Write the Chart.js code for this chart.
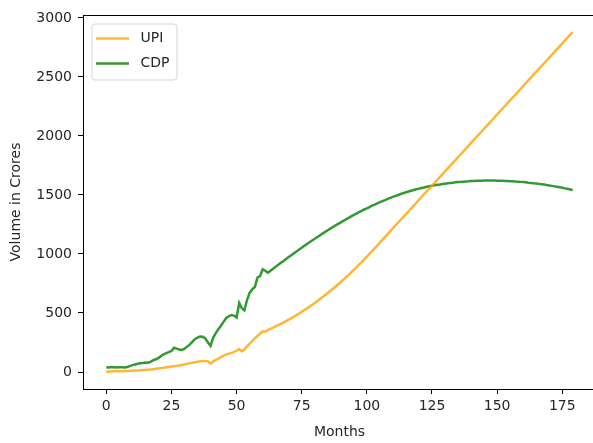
<!DOCTYPE html>
<html><head><meta charset="utf-8">
<script src="https://cdn.jsdelivr.net/npm/chart.js@4"></script>
<style>html,body{margin:0;padding:0;background:#fff;overflow:hidden}#wrap{position:relative;width:600px;height:443px}</style>
</head><body><div id="wrap"><canvas id="c" width="600" height="443"></canvas></div>
<script>
const months = Array.from({length:180},(_,i)=>i);
const upi = [3,4,5,6,6,7,7,8,9,10,11,12,13,14,16,17,19,21,24,27,30,33,37,40,43,46,49,52,56,60,64,69,74,79,83,87,92,94,93,90,72,88,102,114,126,138,148,156,162,168,180,195,175,190,215,240,262,285,305,325,345,342,
356,366,376,386,397,408,419,431,444,456,469,482,496,510,524,539,554,570,585,601,618,635,652,670,688,706,725,744,763,783,803,823,844,866,887,909,931,954,977,1000,1024,1048,1072,1097,
1121,1145,1169,1193,1218,1242,1266,1290,1314,1338,1362,1386,1410,1434,1459,1483,1507,1531,1555,1579,1603,1627,1651,1675,1700,1724,1748,1772,1796,1820,1844,1868,1892,1916,1941,1965,1989,2013,2037,2061,2085,2109,2133,2157,2182,2206,2230,2254,2278,2302,2326,2350,2374,2398,2423,2447,2471,2495,2519,2543,2567,2591,2615,2639,2664,2688,2712,2736,2760,2784,2808,2832,2856,2880];
const cdp = [40,38,42,40,38,41,40,39,42,50,58,64,70,74,76,80,78,86,100,108,118,135,150,160,168,178,205,198,190,186,198,215,232,255,278,292,300,298,285,250,222,290,330,362,392,425,458,472,483,478,462,585,540,522,610,670,700,720,800,812,870,858,
841,858,875,892,908,925,941,958,974,990,1006,1022,1038,1053,1069,1084,1099,1114,1129,1144,1158,1173,1187,1201,1215,1229,1242,1255,1268,1281,1294,1306,1319,1331,1342,1354,1365,1377,1387,1398,1409,1419,1429,1439,1448,1457,1467,1475,1484,
1492,1500,1508,1516,1523,1530,1536,1542,1548,1554,1559,1564,1569,1574,1578,1582,1586,1589,1593,1596,1599,1602,1604,1607,1609,1611,1613,1615,1616,1618,1619,1620,1621,1621,1622,1622,1622,
1622,1622,1621,1621,1620,1619,1618,1617,1616,1614,1613,1611,1609,1607,1604,1602,1599,1597,1594,1591,1588,1584,1581,1577,1573,1569,1565,1561,1556,1552,1547,1542];
const xTicks = [0,25,50,75,100,125,150,175];
const yTicks = [0,500,1000,1500,2000,2500,3000];
const seriesNames = ['UPI','CDP'];
const seriesColors = ['rgba(255,165,0,0.8)','rgba(0,128,0,0.8)'];

const FONT = "'DejaVu Sans', sans-serif";
const TEXT = '#262626';

const frame = {
  id: 'frame',
  afterDatasetsDraw(chart) {
    const {ctx, chartArea: a} = chart;
    ctx.save();
    ctx.strokeStyle = '#000';
    ctx.lineWidth = 1;
    ctx.strokeRect(Math.round(a.left) + 0.5, Math.round(a.top) + 0.5, Math.round(a.right - a.left), Math.round(a.bottom - a.top));
    ctx.restore();
  }
};
const legendBox = {
  id: 'legendBox',
  afterDraw(chart) {
    const {ctx, chartArea: a} = chart;
    const x = a.left + 9, y = a.top + 9, w = 85, h = 56, r = 3;
    ctx.save();
    ctx.beginPath();
    ctx.moveTo(x + r, y); ctx.lineTo(x + w - r, y); ctx.arcTo(x + w, y, x + w, y + r, r);
    ctx.lineTo(x + w, y + h - r); ctx.arcTo(x + w, y + h, x + w - r, y + h, r);
    ctx.lineTo(x + r, y + h); ctx.arcTo(x, y + h, x, y + h - r, r);
    ctx.lineTo(x, y + r); ctx.arcTo(x, y, x + r, y, r); ctx.closePath();
    ctx.fillStyle = 'rgba(255,255,255,0.8)'; ctx.fill();
    ctx.strokeStyle = '#d6d6d6'; ctx.lineWidth = 1; ctx.stroke();
    chart.data.datasets.forEach((ds, i) => {
      const cy = y + 14.5 + i * 25;
      ctx.strokeStyle = ds.borderColor; ctx.lineWidth = 2.5;
      ctx.beginPath(); ctx.moveTo(x + 4, cy); ctx.lineTo(x + 37, cy); ctx.stroke();
      ctx.fillStyle = TEXT; ctx.font = '14px ' + FONT; ctx.textBaseline = 'middle'; ctx.textAlign = 'left';
      ctx.fillText(ds.label, x + 48.5, cy);
    });
    ctx.restore();
  }
};

new Chart(document.getElementById('c'), {
  type: 'line',
  data: {
    labels: months,
    datasets: [
      {label: seriesNames[0], data: upi, borderColor: seriesColors[0], backgroundColor: seriesColors[0], borderWidth: 2.5, pointRadius: 0, tension: 0, fill: false},
      {label: seriesNames[1], data: cdp, borderColor: seriesColors[1], backgroundColor: seriesColors[1], borderWidth: 2.5, pointRadius: 0, tension: 0, fill: false}
    ]
  },
  options: {
    responsive: false,
    devicePixelRatio: 1,
    animation: false,
    layout: {padding: {top: 15, right: 4, left: 0, bottom: 0}},
    plugins: {legend: {display: false}, tooltip: {enabled: false}},
    scales: {
      x: {
        type: 'linear', min: -8.95, max: 187.95,
        afterBuildTicks: s => { s.ticks = xTicks.map(v => ({value: v})); },
        afterFit: s => { s.height = 54; },
        border: {display: false},
        grid: {drawOnChartArea: false, drawTicks: true, tickLength: 5, color: '#000'},
        ticks: {font: {family: FONT, size: 14}, color: TEXT, padding: 4, maxRotation: 0, callback: v => String(v)},
        title: {display: true, text: 'Months', font: {family: FONT, size: 14}, color: TEXT, padding: {top: 0, bottom: 2.5}}
      },
      y: {
        type: 'linear', min: -144, max: 3025,
        afterBuildTicks: s => { s.ticks = yTicks.map(v => ({value: v})); },
        afterFit: s => { s.width = 83; },
        border: {display: false},
        grid: {drawOnChartArea: false, drawTicks: true, tickLength: 5, color: '#000'},
        ticks: {font: {family: FONT, size: 14}, color: TEXT, padding: 6, callback: v => String(v)},
        title: {display: true, text: 'Volume in Crores', font: {family: FONT, size: 14}, color: TEXT, padding: {top: 8, bottom: 0}}
      }
    }
  },
  plugins: [frame, legendBox]
});
</script>
</body></html>
